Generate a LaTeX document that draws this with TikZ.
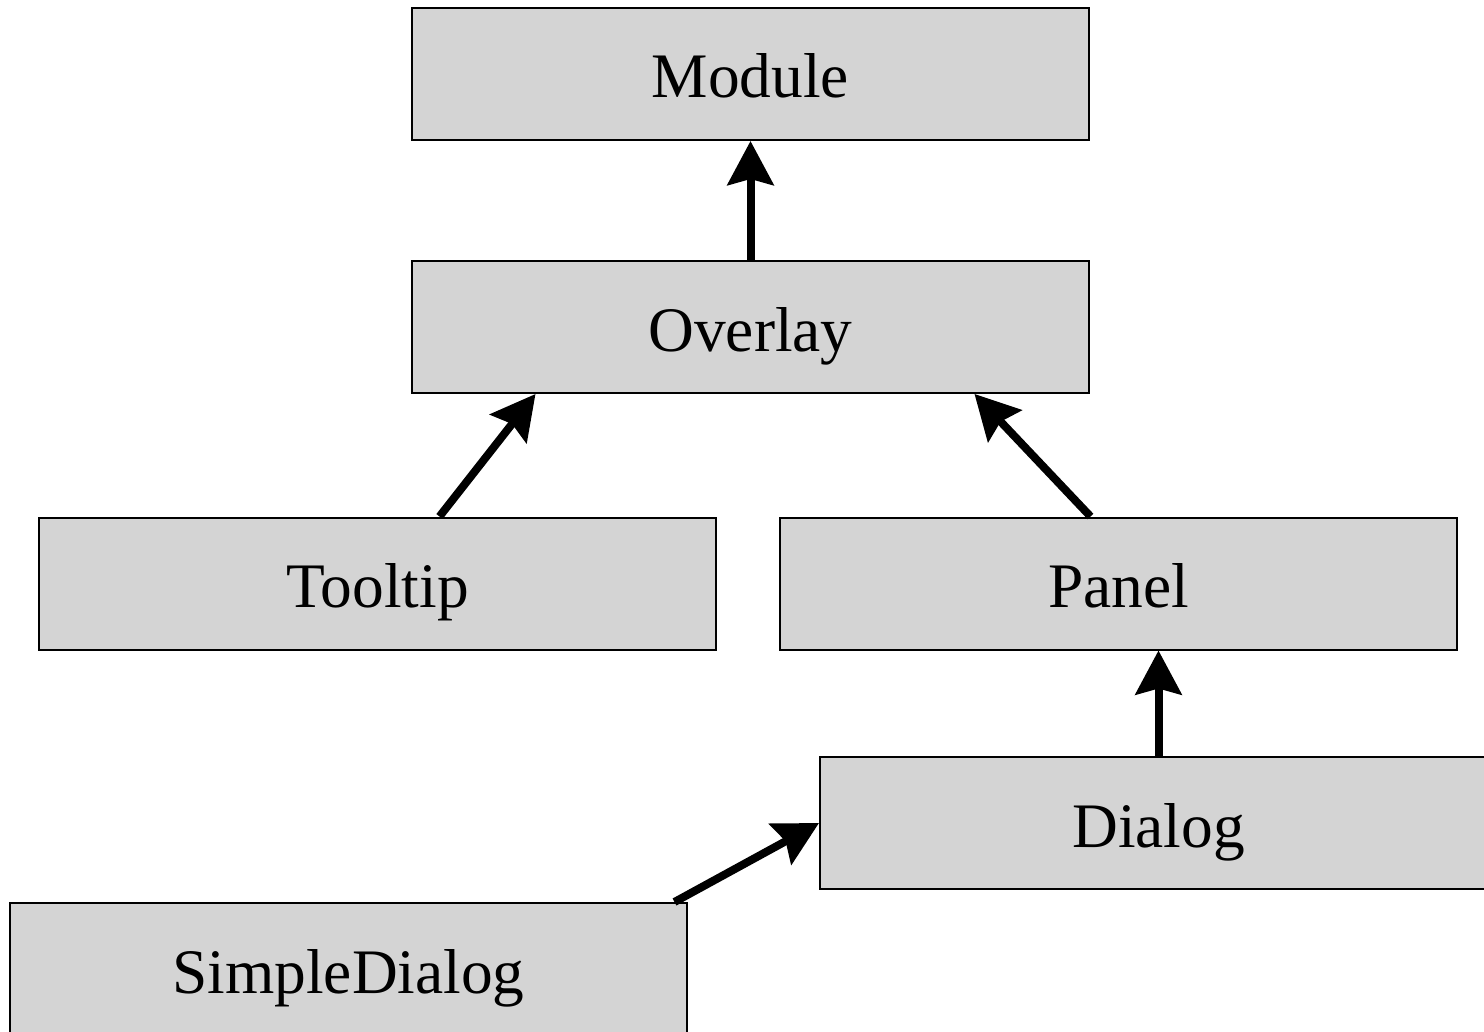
\documentclass[tikz,border=0pt]{standalone}
\usepackage{fontspec}
\setmainfont{Liberation Serif}
\usetikzlibrary{arrows.meta}
\definecolor{boxgray}{RGB}{212,212,212}
\begin{document}
\begin{tikzpicture}[x=0.5pt,y=-0.5pt,
    cls/.style={draw,line width=1pt,fill=boxgray,minimum width=338.5pt,
      minimum height=66pt,inner sep=0pt,text height=30pt,text depth=6pt,
      font=\fontsize{31.7}{38}\selectfont},
    inh/.style={line width=4pt,-{Stealth[length=22pt,width=23pt,inset=3pt]}}]
    \clip (0,0) rectangle (1484,1032);
    \node[cls] (module) at (750.5,74) {Module};
    \node[cls] (overlay) at (750.5,327) {Overlay};
    \node[cls] (tooltip) at (377.5,583.5) {Tooltip};
    \node[cls] (panel) at (1118.5,583.5) {Panel};
    \node[cls] (dialog) at (1158.5,823) {Dialog};
    \node[cls] (sdialog) at (348.5,969) {SimpleDialog};
    \draw[inh] (overlay.north) -- (module.south);
    \draw[inh] ([xshift=31pt]tooltip.north) -- ([xshift=-107.5pt]overlay.south);
    \draw[inh] ([xshift=-14pt]panel.north) -- ([xshift=112pt]overlay.south);
    \draw[inh] (dialog.north) -- (dialog.north |- panel.south);
    \draw[inh] ([xshift=163pt]sdialog.north) -- (dialog.west);
\end{tikzpicture}
\end{document}
